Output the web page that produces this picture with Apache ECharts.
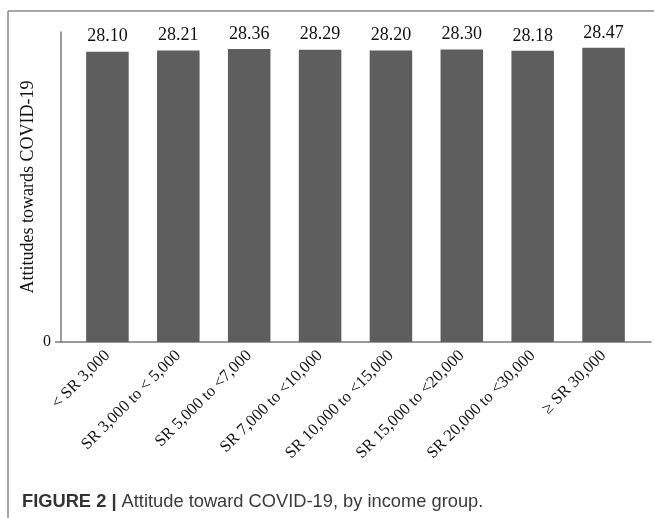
<!DOCTYPE html>
<html>
<head>
<meta charset="utf-8">
<script src="https://cdn.jsdelivr.net/npm/echarts@6/dist/echarts.min.js"></script>
<style>
html,body{margin:0;padding:0;background:#fff;}
#chart{width:654px;height:518px;}
</style>
</head>
<body>
<div id="chart"></div>
<script>
const categories = ['< SR 3,000', 'SR 3,000 to < 5,000', 'SR 5,000 to <7,000', 'SR 7,000 to <10,000', 'SR 10,000 to <15,000', 'SR 15,000 to <20,000', 'SR 20,000 to <30,000', '\u2265 SR 30,000'];
const values = [28.10, 28.21, 28.36, 28.29, 28.20, 28.30, 28.18, 28.47];
const yTickLabels = [0];
const yTitle = 'Attitudes towards COVID-19';
const captionBold = 'FIGURE 2 |';
const captionText = ' Attitude toward COVID-19, by income group.';

const serif = "'Liberation Serif', 'Times New Roman', serif";
const sans = "'Liberation Sans', Arial, sans-serif";

const chart = echarts.init(document.getElementById('chart'), null, {renderer: 'canvas'});
chart.setOption({
  backgroundColor: '#ffffff',
  animation: false,
  grid: [
    {left: 61, right: 3, top: 32, bottom: 176},
    {left: 72, width: 567, top: 32, bottom: 176}
  ],
  xAxis: [
    {gridIndex: 0, type: 'value', min: 0, max: 1,
     axisLine: {show: true, lineStyle: {color: '#7a7a7a', width: 1.5}},
     axisTick: {show: false}, axisLabel: {show: false}, splitLine: {show: false}},
    {gridIndex: 1, type: 'category', data: categories,
     axisLine: {show: false}, axisTick: {show: false},
     axisLabel: {rotate: 45, interval: 0, margin: 11, color: '#111', fontFamily: serif, fontSize: 16.5}}
  ],
  yAxis: [
    {gridIndex: 0, type: 'value', min: 0, max: 30, interval: 30,
     axisLine: {show: true, lineStyle: {color: '#7a7a7a', width: 1.5}},
     axisTick: {show: true, length: 6, customValues: yTickLabels, lineStyle: {color: '#7a7a7a', width: 1.5}},
     axisLabel: {customValues: yTickLabels, color: '#111', fontFamily: serif, fontSize: 16, margin: 10},
     splitLine: {show: false},
     name: yTitle, nameLocation: 'middle', nameGap: 24, nameRotate: 90, nameMoveOverlap: false,
     nameTextStyle: {color: '#111', fontFamily: serif, fontSize: 18}},
    {gridIndex: 1, type: 'value', min: 0, max: 30, show: false}
  ],
  series: [{
    type: 'bar', xAxisIndex: 1, yAxisIndex: 1, data: values,
    barWidth: '60%',
    itemStyle: {color: '#5e5e5e'},
    label: {show: true, position: 'top', distance: 6, color: '#111', fontFamily: serif, fontSize: 18,
            formatter: p => p.value.toFixed(2)}
  }],
  graphic: [
    {type: 'line', shape: {x1: 8, y1: 11, x2: 654, y2: 11}, style: {stroke: '#8a8a8a', lineWidth: 1.5}},
    {type: 'line', shape: {x1: 8, y1: 11, x2: 8, y2: 518}, style: {stroke: '#8a8a8a', lineWidth: 1.5}},
    {type: 'text', left: 22, top: 493, style: {
      text: '{b|' + captionBold + '}{r|' + captionText + '}',
      rich: {
        b: {fontFamily: sans, fontWeight: 'bold', fontSize: 18.3, fill: '#333'},
        r: {fontFamily: sans, fontSize: 18.3, fill: '#3a3a3a'}
      }
    }}
  ]
});
</script>
</body>
</html>
